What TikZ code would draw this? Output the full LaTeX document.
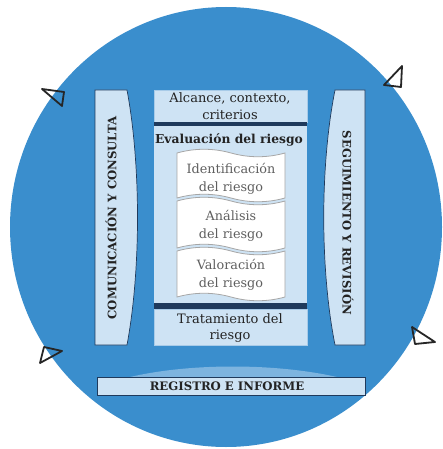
\documentclass[tikz,border=0pt]{standalone}
\usepackage{fontspec}
\setmainfont{DejaVu Serif}
\begin{document}
\definecolor{disc}{RGB}{58,142,205}
\definecolor{pale}{RGB}{206,227,244}
\definecolor{paleedge}{RGB}{168,203,232}
\definecolor{navy}{RGB}{31,58,92}
\definecolor{inktext}{RGB}{35,35,35}
\definecolor{greytext}{RGB}{95,95,95}
\begin{tikzpicture}[x=1pt,y=-1pt,
  bar/.style={fill=pale,draw=navy,line width=0.7pt},
  band/.style={fill=navy,draw=none},
  tape/.style={fill=white,draw=gray!70,line width=0.8pt},
  tip/.style={draw=black!85,line width=1.8pt,line join=round},
  lbl/.style={font=\fontsize{13}{16.5}\selectfont,text=inktext,align=center,inner sep=0pt},
  innerlbl/.style={font=\fontsize{12.8}{17.5}\selectfont,text=greytext,align=center,inner sep=0pt},
  sidelbl/.style={font=\bfseries\fontsize{11.7}{14}\selectfont,text=inktext,inner sep=0pt}]
\useasboundingbox (0,0) rectangle (443,449);
\fill[white] (0,0) rectangle (443,449);

% the blue disc
\fill[disc] (226,227) ellipse [x radius=216, y radius=220];

% side bars, each bulging toward the centre
\draw[bar] (95,90) -- (127,90) .. controls (141,165) and (141,270) .. (127,345) -- (95,345) -- cycle;
\draw[bar] (365,90) -- (335,90) .. controls (320,165) and (320,270) .. (335,345) -- (365,345) -- cycle;

% bottom bar with its faint upper bulge
\fill[pale!45!disc] (130,377) .. controls (190,363) and (275,363) .. (337,377) -- cycle;
\draw[bar] (97,377) rectangle (365,395);

% central column
\draw[bar,draw=paleedge] (154,90) rectangle (307,122);
\fill[band] (154,122) rectangle (307,126);
\fill[pale] (154,126) rectangle (307,303);
\fill[band] (154,303) rectangle (307,309);
\draw[bar,draw=paleedge] (154,309) rectangle (307,345);

% stacked tapes of the assessment steps
\foreach \t/\b in {153/198, 201/248, 251/297}{
  \draw[tape] (177,\t) .. controls (195,\t-5) and (213,\t-5) .. (231,\t)
     .. controls (249,\t+5) and (267,\t+5) .. (285,\t)
     -- (285,\b) .. controls (267,\b+5) and (249,\b+5) .. (231,\b)
     .. controls (213,\b-5) and (195,\b-5) .. (177,\b) -- cycle;
}

% labels
\node[lbl] (alc) at (230,106) {Alcance, contexto,\\criterios};
\node[lbl,font=\bfseries\fontsize{12.3}{15}\selectfont] (eva) at (229,140) {Evaluación del riesgo};
\node[innerlbl] (ide) at (231,179) {Identificación\\del riesgo};
\node[innerlbl] (ana) at (231,226) {Análisis\\del riesgo};
\node[innerlbl] (val) at (231,275) {Valoración\\del riesgo};
\node[lbl] (tra) at (230,328) {Tratamiento del\\riesgo};
\node[sidelbl,rotate=90] (com) at (111,218) {COMUNICACIÓN Y CONSULTA};
\node[sidelbl,rotate=-90] (seg) at (348,223) {SEGUIMIENTO Y REVISIÓN};
\node[sidelbl] (reg) at (227,386) {REGISTRO E INFORME};

% arrow tips around the rim
\draw[tip] (42,89) -- (64,92) -- (62,106) -- cycle;
\draw[tip] (402,66) -- (384,85) -- (401,87) -- cycle;
\draw[tip] (44,347) -- (62,351) -- (40,363) -- cycle;
\draw[tip] (412,327) -- (435,342) -- (415,344) -- cycle;
\end{tikzpicture}
\end{document}
